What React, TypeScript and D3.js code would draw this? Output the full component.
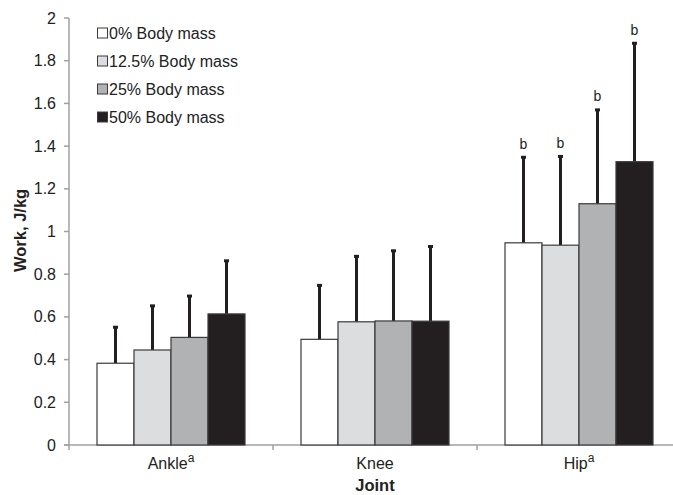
import React, { useRef, useEffect } from 'react'
import * as d3 from 'd3'

const joints = ['Ankle', 'Knee', 'Hip']
const jointSup = ['a', '', 'a']
const series = ['0% Body mass', '12.5% Body mass', '25% Body mass', '50% Body mass']
const colors = ['#ffffff', '#dcdddf', '#b1b2b4', '#231f20']
const means = [
  [0.383, 0.445, 0.504, 0.614],
  [0.495, 0.577, 0.581, 0.58],
  [0.947, 0.936, 1.13, 1.327],
]
const errTops = [
  [0.554, 0.654, 0.7, 0.865],
  [0.75, 0.886, 0.912, 0.932],
  [1.35, 1.354, 1.572, 1.884],
]
const sigLabels = [
  ['', '', '', ''],
  ['', '', '', ''],
  ['b', 'b', 'b', 'b'],
]
const yTicks = [0, 0.2, 0.4, 0.6, 0.8, 1, 1.2, 1.4, 1.6, 1.8, 2]

export default function App() {
  const ref = useRef<SVGSVGElement>(null)
  const width = 673
  const height = 495

  useEffect(() => {
    const svg = d3.select(ref.current)
    svg.selectAll('*').remove()
    const font = 'Liberation Sans, Arial, sans-serif'
    const left = 69
    const y = d3.scaleLinear().domain([0, 2]).range([445, 18])
    const x = d3.scaleBand().domain(joints).range([left, left + 612]).paddingInner(0).paddingOuter(0)
    const inner = d3.scaleBand().domain(series).range([28, 176]).padding(0)

    const g = svg.append('g')

    // y axis
    g.append('line').attr('x1', left).attr('x2', left).attr('y1', y(0)).attr('y2', y(2))
      .attr('stroke', '#a0a0a0').attr('stroke-width', 1.5)
    yTicks.forEach(t => {
      g.append('line').attr('x1', left - 5).attr('x2', left).attr('y1', y(t)).attr('y2', y(t))
        .attr('stroke', '#a0a0a0').attr('stroke-width', 1.5)
      g.append('text').attr('x', 56).attr('y', y(t) + 5.5).attr('text-anchor', 'end')
        .attr('font-family', font).attr('font-size', 16).attr('fill', '#222').text(String(t))
    })

    // x axis
    g.append('line').attr('x1', left - 5).attr('x2', width).attr('y1', y(0)).attr('y2', y(0))
      .attr('stroke', '#a0a0a0').attr('stroke-width', 1.5)
    ;[0, 1, 2, 3].forEach(i => {
      const xx = left + i * x.bandwidth()
      g.append('line').attr('x1', xx).attr('x2', xx).attr('y1', y(0)).attr('y2', y(0) + 5)
        .attr('stroke', '#a0a0a0').attr('stroke-width', 1.5)
    })

    joints.forEach((j, ji) => {
      const gx = x(j) as number
      series.forEach((s, si) => {
        const bx = gx + (inner(s) as number)
        const bw = inner.bandwidth()
        const cx = bx + bw / 2
        // error bar
        g.append('line').attr('x1', cx).attr('x2', cx).attr('y1', y(means[ji][si])).attr('y2', y(errTops[ji][si]))
          .attr('stroke', '#231f20').attr('stroke-width', 3)
        g.append('rect').attr('x', cx - 2.5).attr('y', y(errTops[ji][si]) - 1).attr('width', 5).attr('height', 3)
          .attr('fill', '#231f20')
        g.append('rect').attr('x', bx).attr('y', y(means[ji][si])).attr('width', bw)
          .attr('height', y(0) - y(means[ji][si]))
          .attr('fill', colors[si]).attr('stroke', '#3a3a3a').attr('stroke-width', 1.2)
        if (sigLabels[ji][si]) {
          g.append('text').attr('x', cx).attr('y', y(errTops[ji][si]) - 8).attr('text-anchor', 'middle')
            .attr('font-family', font).attr('font-size', 14).attr('fill', '#222').text(sigLabels[ji][si])
        }
      })
      const t = g.append('text').attr('x', gx + x.bandwidth() / 2).attr('y', 469).attr('text-anchor', 'middle')
        .attr('font-family', font).attr('font-size', 16).attr('fill', '#222')
      t.append('tspan').text(j)
      if (jointSup[ji]) t.append('tspan').attr('dy', -7).attr('font-size', 12).text(jointSup[ji])
    })

    // axis titles
    g.append('text').attr('x', 375).attr('y', 491).attr('text-anchor', 'middle')
      .attr('font-family', font).attr('font-size', 16.5).attr('font-weight', 'bold').attr('fill', '#222').text('Joint')
    g.append('text').attr('transform', `translate(26,${y(1.005)}) rotate(-90)`).attr('text-anchor', 'middle')
      .attr('font-family', font).attr('font-size', 16.5).attr('font-weight', 'bold').attr('fill', '#222').text('Work, J/kg')

    // legend
    series.forEach((s, i) => {
      const ly = 33 + i * 28
      g.append('rect').attr('x', 97.5).attr('y', ly - 5).attr('width', 10).attr('height', 10)
        .attr('fill', colors[i]).attr('stroke', '#3a3a3a').attr('stroke-width', 1)
      g.append('text').attr('x', 109).attr('y', ly + 6).attr('font-family', font).attr('font-size', 16)
        .attr('fill', '#222').text(s)
    })
  }, [])

  return (
    <svg ref={ref} width={width} height={height}
      style={{ position: 'absolute', left: 0, top: 0, background: '#fff', display: 'block' }} />
  )
}
